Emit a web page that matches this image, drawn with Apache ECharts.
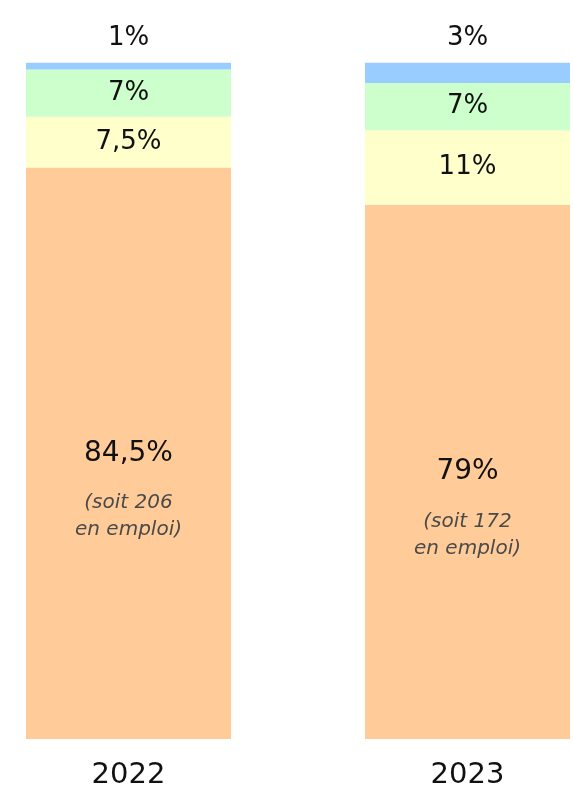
<!DOCTYPE html>
<html>
<head>
<meta charset="utf-8">
<script src="https://cdn.jsdelivr.net/npm/echarts@6/dist/echarts.min.js"></script>
<style>
  html, body { margin: 0; padding: 0; background: #fff; }
  #chart { width: 573px; height: 798px; }
</style>
</head>
<body>
<div id="chart"></div>
<script>
// données
const years = ['2022', '2023']
const emploi = [84.5, 79]
const enEmploiNb = [206, 172]
const jaune = [7.5, 11]
const vert = [7, 7]
const bleu = [1, 3]

const fmt = v => String(v).replace('.', ',') + '%'
const font = '"DejaVu Sans", sans-serif'

const chart = echarts.init(document.getElementById('chart'))

function seg(name, data, color, label) {
  return {
    name,
    type: 'bar',
    stack: 'total',
    data,
    barWidth: 205,
    clip: false,
    itemStyle: { color },
    label: Object.assign({
      show: true,
      position: 'inside',
      color: '#111',
      fontFamily: font,
      fontSize: 26,
      formatter: p => fmt(p.value)
    }, label || {})
  }
}

chart.setOption({
  animation: false,
  grid: { left: 128.5, right: 105.5, top: 62.7, bottom: 59 },
  xAxis: {
    type: 'category',
    data: years,
    boundaryGap: false,
    axisLine: { show: false },
    axisTick: { show: false },
    axisLabel: { color: '#111', fontFamily: font, fontSize: 29, margin: 22 }
  },
  yAxis: { type: 'value', min: 0, max: 100, show: false },
  series: [
    seg('emploi', emploi, '#FFCC99', {
      offset: [0, 27],
      formatter: p => '{a|' + fmt(p.value) + '}\n{b|(soit ' + enEmploiNb[p.dataIndex] + '}\n{b|en emploi)}',
      rich: {
        a: { fontFamily: font, fontSize: 28, color: '#111', lineHeight: 73 },
        b: { fontFamily: font, fontSize: 20, fontStyle: 'italic', color: '#4a4a4a', lineHeight: 27 }
      }
    }),
    seg('jaune', jaune, '#FFFFCC'),
    seg('vert', vert, '#CCFFCC'),
    seg('bleu', bleu, '#99CCFF', { position: 'top', distance: 11 })
  ]
})
</script>
</body>
</html>
